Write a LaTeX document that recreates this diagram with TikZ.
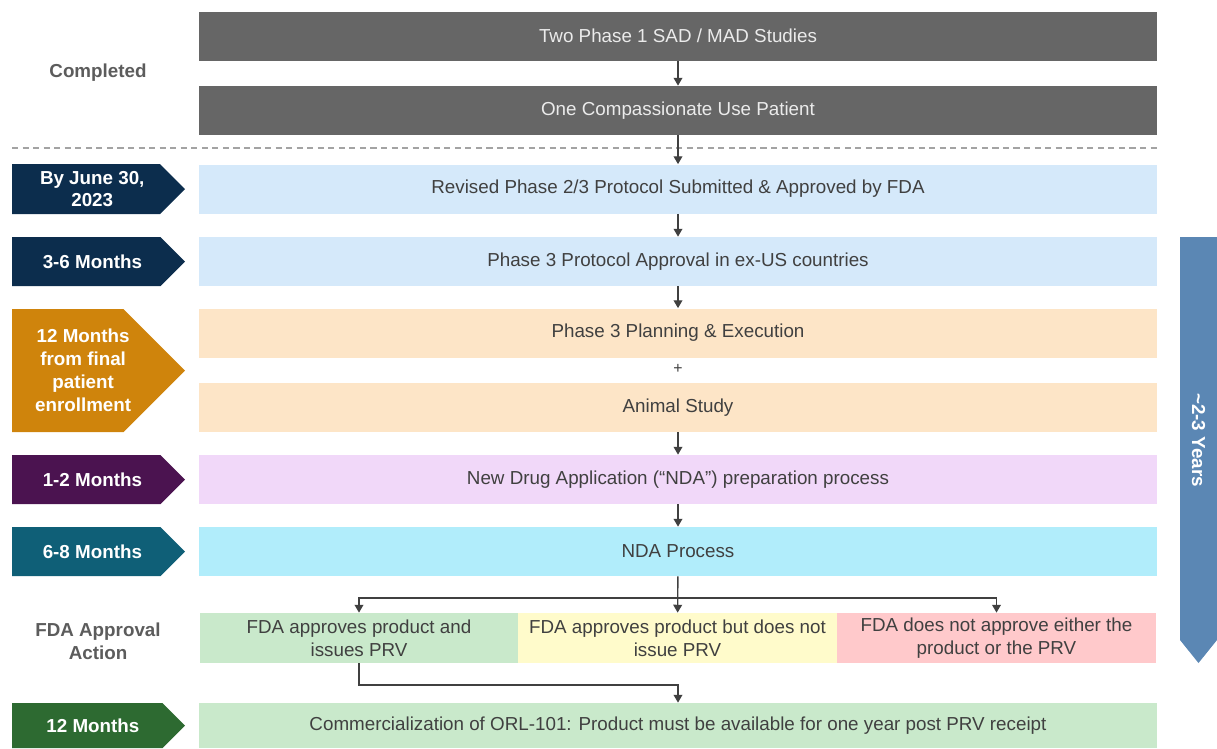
\documentclass[tikz,border=0pt]{standalone}
\usepackage{fontspec}
\setmainfont{Liberation Sans}
\usetikzlibrary{arrows.meta}

\definecolor{grau}{HTML}{666666}
\definecolor{txt}{HTML}{404040}
\definecolor{hblau}{HTML}{D5E9FA}
\definecolor{navy}{HTML}{0C2D4D}
\definecolor{orange}{HTML}{CF840C}
\definecolor{horange}{HTML}{FDE5C7}
\definecolor{lila}{HTML}{4B1350}
\definecolor{hlila}{HTML}{F1D8F9}
\definecolor{petrol}{HTML}{0F5F77}
\definecolor{cyan}{HTML}{B1EDFB}
\definecolor{gruen}{HTML}{2D6A31}
\definecolor{hgruen}{HTML}{C9E9CB}
\definecolor{gelb}{HTML}{FFFBCB}
\definecolor{rosa}{HTML}{FFC9CB}
\definecolor{stahl}{HTML}{5B87B4}

% Pfeilmarke links: oben, unten, Farbe, Name, Text
\newcommand{\chev}[5]{%
  \fill[#3] (12,#1) -- ({185-(#2-#1)/2},#1) -- (185,{(#1+#2)/2})
    -- ({185-(#2-#1)/2},#2) -- (12,#2) -- cycle;
  \node[lbl] (#4) at ({(197-(#2-#1)/4)/2},{(#1+#2)/2}) {#5};}

\begin{document}
\begin{tikzpicture}[x=0.02cm,y=-0.02cm,
  font=\fontsize{10.7}{13}\selectfont,
  box/.style={minimum width=19.16cm, minimum height=0.98cm,
    inner sep=0pt, text=txt},
  sbox/.style={minimum width=6.38cm, minimum height=1cm,
    inner sep=0pt, text=txt, align=center},
  lbl/.style={text=white, font=\fontsize{10.7}{13}\selectfont\bfseries,
    align=center},
  side/.style={text=grau!90!black, font=\fontsize{10.7}{13}\selectfont\bfseries,
    align=center},
  pfeil/.style={draw=txt, line width=0.8pt,
    -{Triangle[length=4.5pt,width=5pt]}}]
\useasboundingbox (0,0) rectangle (1217,748);

% abgeschlossen
\node [side] (done) at (98,73) {Completed};
\node [box, fill=grau, text=white!92!black] (gA) at (678,36) {Two Phase 1 SAD / MAD Studies};
\node [box, fill=grau, text=white!92!black] (gB) at (678,110.5) {One Compassionate Use Patient};
\draw [grau!60, line width=0.8pt, dash pattern=on 3.5pt off 2.5pt] (12,148) -- (1157,148);

% Zeitmarken
\chev{164}{214}{navy}{t1}{By June 30,\\2023}
\chev{237}{286}{navy}{t2}{3-6 Months}
\chev{309}{432}{orange}{t3}{12 Months\\from final\\patient\\enrollment}
\chev{455}{504}{lila}{t4}{1-2 Months}
\chev{527}{576}{petrol}{t5}{6-8 Months}
\chev{703}{748}{gruen}{t6}{12 Months}
\node [side] (fda) at (98,641) {FDA Approval\\Action};

% Schritte
\node [box, fill=hblau] (s1) at (678,189) {Revised Phase 2/3 Protocol Submitted \& Approved by FDA};
\node [box, fill=hblau] (s2) at (678,261.5) {Phase 3 Protocol Approval in ex-US countries};
\node [box, fill=horange] (s3) at (678,333) {Phase 3 Planning \& Execution};
\node [text=txt, font=\small] (plus) at (678,369) {+};
\node [box, fill=horange] (s4) at (678,407.5) {Animal Study};
\node [box, fill=hlila] (s5) at (678,479.5) {New Drug Application (“NDA”) preparation process};
\node [box, fill=cyan] (s6) at (678,551.5) {NDA Process};
\node [sbox, fill=hgruen] (f1) at (359,638) {FDA approves product and\\issues PRV};
\node [sbox, fill=gelb] (f2) at (677.5,638) {FDA approves product but does not\\issue PRV};
\node [sbox, fill=rosa] (f3) at (996.5,638) {FDA does not approve either the\\product or the PRV};
\node [box, fill=hgruen, minimum height=0.9cm] (s7) at (678,725.5) {Commercialization of ORL-101: Product must be available for one year post PRV receipt};

% Verbindungen
\draw [pfeil] (gA) -- (gB);
\draw [pfeil] (gB) -- (s1);
\draw [pfeil] (s1) -- (s2);
\draw [pfeil] (s2) -- (s3);
\draw [pfeil] (s4) -- (s5);
\draw [pfeil] (s5) -- (s6);
\coordinate (knot) at (678,598);
\coordinate (knotB) at (678,685);
\draw [pfeil] (s6) -- (f2);
\draw [pfeil] (knot) -| (f1);
\draw [pfeil] (knot) -| (f3);
\draw [pfeil] (f1) |- (knotB) -- (s7);

% Gesamtdauer
\fill [stahl] (1180,237) -- (1217,237) -- (1217,640) -- (1198.5,663) -- (1180,640) -- cycle;
\node [lbl, rotate=-90] (dauer) at (1198.5,440) {\textasciitilde 2-3 Years};

\end{tikzpicture}
\end{document}
